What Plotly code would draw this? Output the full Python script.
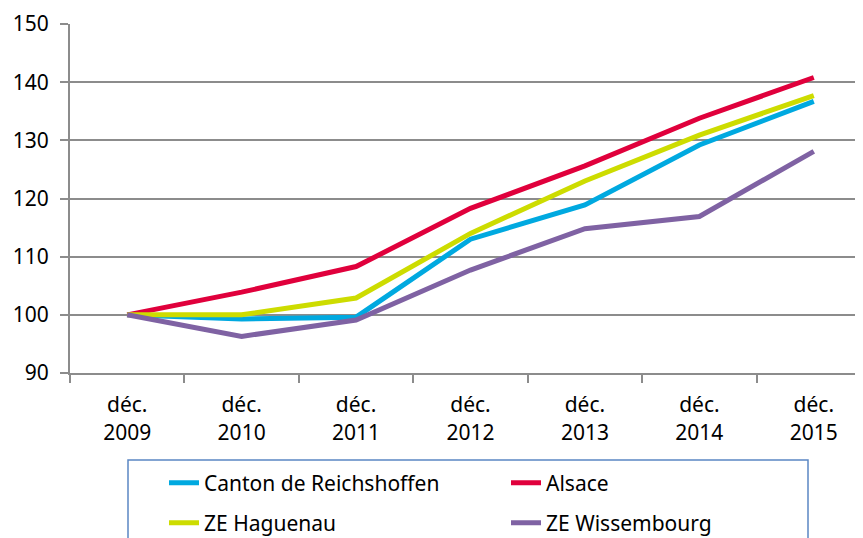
import plotly.graph_objects as go

categories = ["déc.<br>2009", "déc.<br>2010", "déc.<br>2011", "déc.<br>2012",
              "déc.<br>2013", "déc.<br>2014", "déc.<br>2015"]
canton = [100, 99.3, 99.6, 113.0, 118.9, 129.2, 136.7]
alsace = [100, 103.9, 108.3, 118.3, 125.6, 133.8, 140.8]
haguenau = [100, 100.0, 102.9, 114.0, 123.0, 130.9, 137.7]
wissembourg = [100, 96.3, 99.1, 107.7, 114.8, 116.9, 128.1]

yticks = [90, 100, 110, 120, 130, 140, 150]

FONT = "Noto Sans"
FS = 21
# page body has an 8px default margin; compensate in layout margins
OFF = 8
L, T = 70 - OFF, 24 - OFF
PH = 349
PW = 863 - L
fig = go.Figure()
series = [
    ("Canton de Reichshoffen", canton, "#00a9e0", "legend"),
    ("Alsace", alsace, "#e0003c", "legend"),
    ("ZE Haguenau", haguenau, "#cddc00", "legend2"),
    ("ZE Wissembourg", wissembourg, "#7f62a3", "legend2"),
]
for name, vals, col, lg in series:
    fig.add_trace(go.Scatter(x=categories, y=vals, mode="lines", name=name,
                             line=dict(color=col, width=5), legend=lg))


def px_x(x):
    return (x - 70) / PW


def px_y(y):
    return (373 - y) / PH


fig.update_layout(
    width=863, height=538,
    margin=dict(l=L, r=0, t=T, b=538 - T - PH, autoexpand=False),
    paper_bgcolor="white", plot_bgcolor="white",
    font=dict(family=FONT, size=FS, color="#000000"),
    xaxis=dict(type="category", range=[-0.5, 6.5], showgrid=False,
               showline=True, linecolor="#8c8c8c", linewidth=2,
               ticks="outside", tickson="boundaries", ticklen=8,
               tickcolor="#8c8c8c", tickwidth=2, ticklabelstandoff=12,
               tickfont=dict(size=FS)),
    yaxis=dict(range=[90, 150], tickvals=yticks, showgrid=True,
               gridcolor="#8c8c8c", gridwidth=1.5, zeroline=False,
               showline=True, linecolor="#8c8c8c", linewidth=2,
               ticks="outside", ticklen=8, tickcolor="#8c8c8c", tickwidth=2,
               ticklabelstandoff=7, tickfont=dict(size=FS)),
    legend=dict(orientation="h", x=px_x(164), xanchor="left",
                y=px_y(483), yanchor="middle",
                entrywidth=297, entrywidthmode="pixels",
                font=dict(size=FS), bgcolor="rgba(0,0,0,0)", borderwidth=0),
    legend2=dict(orientation="h", x=px_x(164), xanchor="left",
                 y=px_y(523), yanchor="middle",
                 entrywidth=297, entrywidthmode="pixels",
                 font=dict(size=FS), bgcolor="rgba(0,0,0,0)", borderwidth=0),
    shapes=[dict(type="rect", xref="paper", yref="paper",
                 x0=px_x(128), x1=px_x(808),
                 y0=px_y(570), y1=px_y(460),
                 line=dict(color="#5b87c4", width=1.5))],
)

fig.write_html("out.html")
